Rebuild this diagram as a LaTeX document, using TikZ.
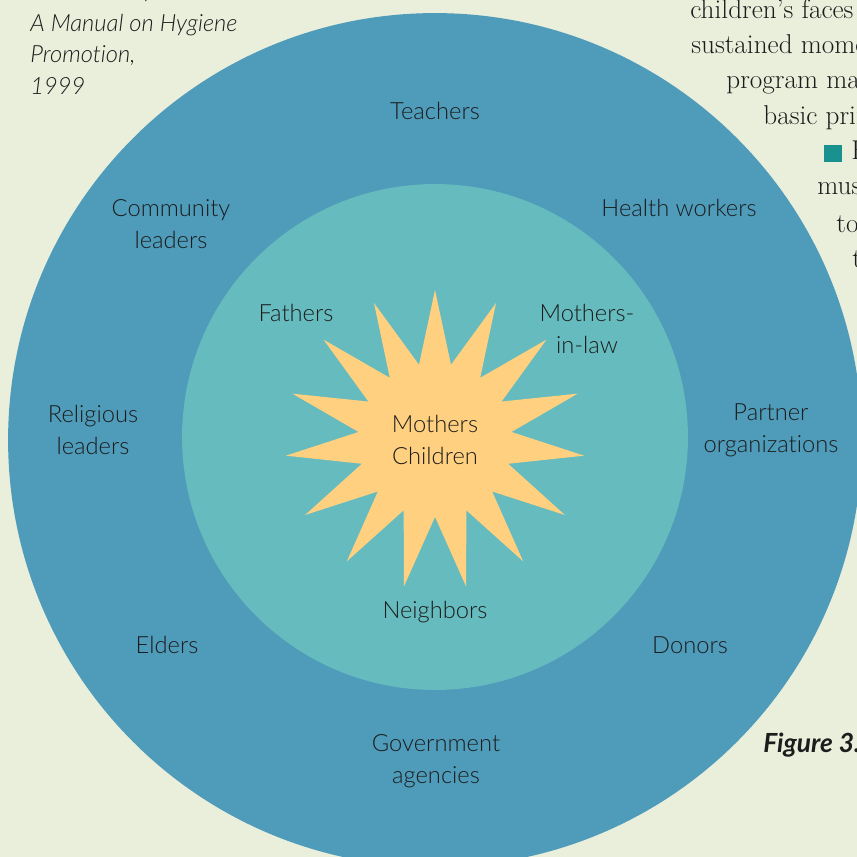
\documentclass[tikz,border=0pt]{standalone}
\usepackage{fontspec}
\setsansfont{Lato Light}[ItalicFont={Lato Light Italic},BoldFont={Lato Bold},
  BoldItalicFont={Lato Bold Italic},Ligatures=NoCommon]
\usetikzlibrary{shapes.geometric}
\definecolor{paper}{HTML}{EAEFDC}
\definecolor{outerblue}{HTML}{4E9BBA}
\definecolor{innerteal}{HTML}{66BBBE}
\definecolor{sun}{HTML}{FFD07F}
\definecolor{bullet}{HTML}{18918F}
\definecolor{ink}{HTML}{1C1C1C}

\begin{document}
\begin{tikzpicture}[x=0.02cm,y=-0.02cm,text=ink,
                    font=\sffamily\fontsize{13.5}{18.2}\selectfont]
  \tikzstyle{ring}=[circle,draw=none,inner sep=0pt]
  \tikzstyle{group}=[align=center,inner sep=0pt]
  \tikzstyle{prose}=[font=\rmfamily\fontsize{15.5}{19}\selectfont,anchor=base west,inner sep=0pt]
  \tikzstyle{source}=[font=\sffamily\itshape\fontsize{13.5}{16}\selectfont,anchor=base west,inner sep=0pt]

  \useasboundingbox (0,0) rectangle (857,857);
  \clip (0,0) rectangle (857,857);
  \fill[paper] (0,0) rectangle (857,857);

  % rings of influence
  \node[ring,fill=outerblue,minimum size=17.08cm] (outer) at (435,440) {};
  \node[ring,fill=innerteal,minimum size=10.12cm] (inner) at (435,437) {};
  \node[star,star points=15,star point ratio=1.95,fill=sun,minimum size=6cm,
        inner sep=0pt,group] (hub) at (435,440) {Mothers\\Children};

  % inner circle
  \node[group] (fathers)   at (296,313) {Fathers};
  \node[group] (inlaws)    at (587,329) {Mothers-\\in-law};
  \node[group] (neighbors) at (435,612) {Neighbors};

  % outer circle
  \node[group] (teachers)   at (435,111) {Teachers};
  \node[group] (community)  at (171,224) {Community\\leaders};
  \node[group] (health)     at (679,208) {Health workers};
  \node[group] (religious)  at (93,430)  {Religious\\leaders};
  \node[group] (partner)    at (771,430) {Partner\\organizations};
  \node[group] (elders)     at (167,645) {Elders};
  \node[group] (donors)     at (690,645) {Donors};
  \node[group] (government) at (436,761) {Government\\agencies};

  % page around the figure
  \node[source] (src0) at (30,-2) {Source: adapted from UNICEF,};
  \node[source] (src1) at (30,32) {A Manual on Hygiene};
  \node[source] (src2) at (30,63) {Promotion,};
  \node[source] (src3) at (30,95) {1999};

  \node[prose] (p1) at (690,19)  {children’s faces};
  \node[prose] (p2) at (691,54)  {sustained momentum};
  \node[prose] (p3) at (726,89)  {program managers};
  \node[prose] (p4) at (763,125) {basic principles};
  \fill[bullet] (824,145) rectangle (842,162);
  \node[prose] (p5) at (851,160) {E};
  \node[prose] (p6) at (817,195) {must};
  \node[prose] (p7) at (836,233) {to};
  \node[prose] (p8) at (852,268) {the};

  \node[font=\sffamily\bfseries\itshape\fontsize{15}{17}\selectfont,anchor=base west,
        inner sep=0pt] (fig) at (763,752) {Figure 3.};
\end{tikzpicture}
\end{document}
